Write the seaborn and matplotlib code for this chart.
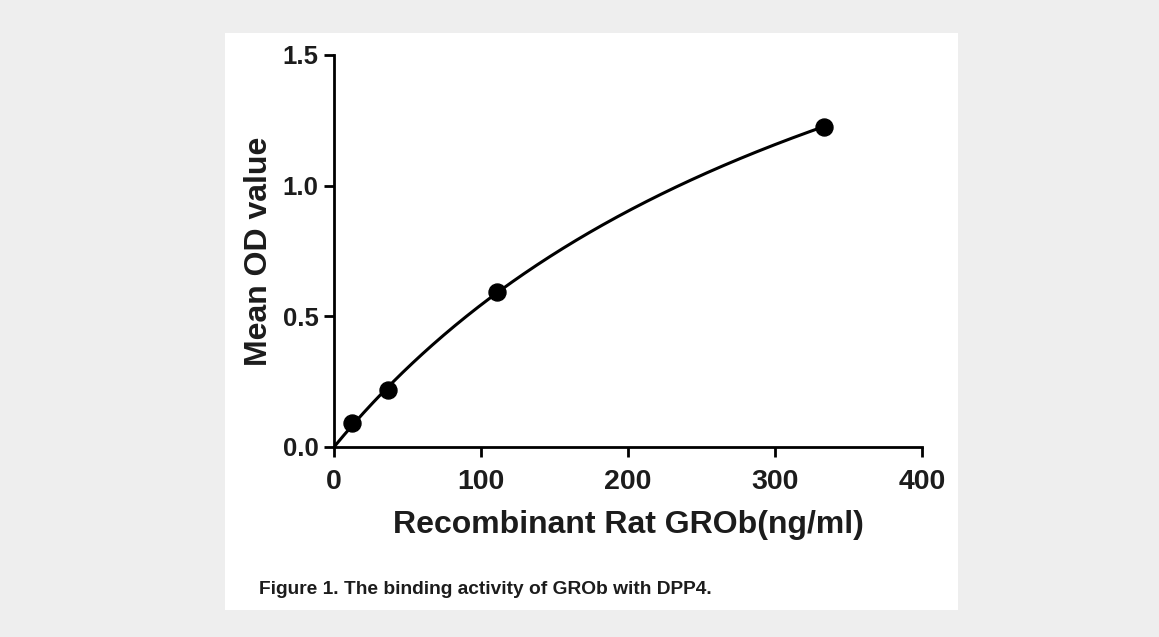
import numpy as np
import pandas as pd
import matplotlib.pyplot as plt
import seaborn as sns
from matplotlib.patches import Rectangle

# --- DATA ---
concentration = [12.3, 37.0, 111.0, 333.0]   # ng/ml
mean_od = [0.09, 0.22, 0.595, 1.225]

x_ticks = [0, 100, 200, 300, 400]
y_ticks = [0.0, 0.5, 1.0, 1.5]

# one-site binding fit: y = Bmax*x/(Kd+x), grid search on Kd, closed-form Bmax
x = np.array(concentration)
y = np.array(mean_od)
best = None
for kd in np.linspace(10, 2000, 4000):
    g = x / (kd + x)
    bmax = (g @ y) / (g @ g)
    err = np.sum((bmax * g - y) ** 2)
    if best is None or err < best[0]:
        best = (err, kd, bmax)
_, kd, bmax = best
fit_x = np.linspace(0, x.max(), 300)
fit_df = pd.DataFrame({'x': fit_x, 'y': bmax * fit_x / (kd + fit_x)})
pts_df = pd.DataFrame({'x': concentration, 'y': mean_od})

# --- PLOT ---
sns.set_style("ticks")
plt.rcParams['font.family'] = ['Liberation Sans', 'DejaVu Sans']
plt.rcParams['font.weight'] = 'bold'
TXT = '#1c1c1c'

fig = plt.figure(figsize=(11.59, 6.37), dpi=100)
fig.patch.set_facecolor('#eeeeee')
fig.patches.append(Rectangle((225 / 1159, 1 - 610 / 637), (958 - 225) / 1159, (610 - 33) / 637,
                             transform=fig.transFigure, facecolor='white', edgecolor='none', zorder=-5))

ax = fig.add_axes([334 / 1159, 1 - 447 / 637, (922 - 334) / 1159, (447 - 55) / 637])
ax.set_facecolor('none')

sns.lineplot(data=fit_df, x='x', y='y', ax=ax, color='black', linewidth=2.2)
sns.scatterplot(data=pts_df, x='x', y='y', ax=ax, color='black', s=150, edgecolor='black', zorder=5)

ax.set_xlim(0, 400)
ax.set_ylim(0, 1.5)
ax.set_xticks(x_ticks)
ax.set_yticks(y_ticks)
ax.set_xticklabels([str(t) for t in x_ticks], fontsize=20.5, fontweight='bold', color=TXT)
ax.set_yticklabels([f'{t:.1f}' for t in y_ticks], fontsize=18.5, fontweight='bold', color=TXT)
ax.tick_params(axis='both', direction='out', length=7, width=2, color='black')
ax.tick_params(axis='x', pad=9)
ax.tick_params(axis='y', pad=4)
for side in ['left', 'bottom']:
    ax.spines[side].set_linewidth(2)
    ax.spines[side].set_color('black')
sns.despine(ax=ax)

ax.set_xlabel('Recombinant Rat GROb(ng/ml)', fontsize=23, fontweight='bold', color=TXT, labelpad=11)
ax.set_ylabel('Mean OD value', fontsize=23, fontweight='bold', color=TXT, labelpad=6)

fig.text(485 / 1159, 1 - 590 / 637, 'Figure 1. The binding activity of GROb with DPP4.',
         ha='center', va='center', fontsize=13.8, fontweight='bold', color=TXT)

plt.savefig('out.png', dpi=100, facecolor=fig.get_facecolor())
